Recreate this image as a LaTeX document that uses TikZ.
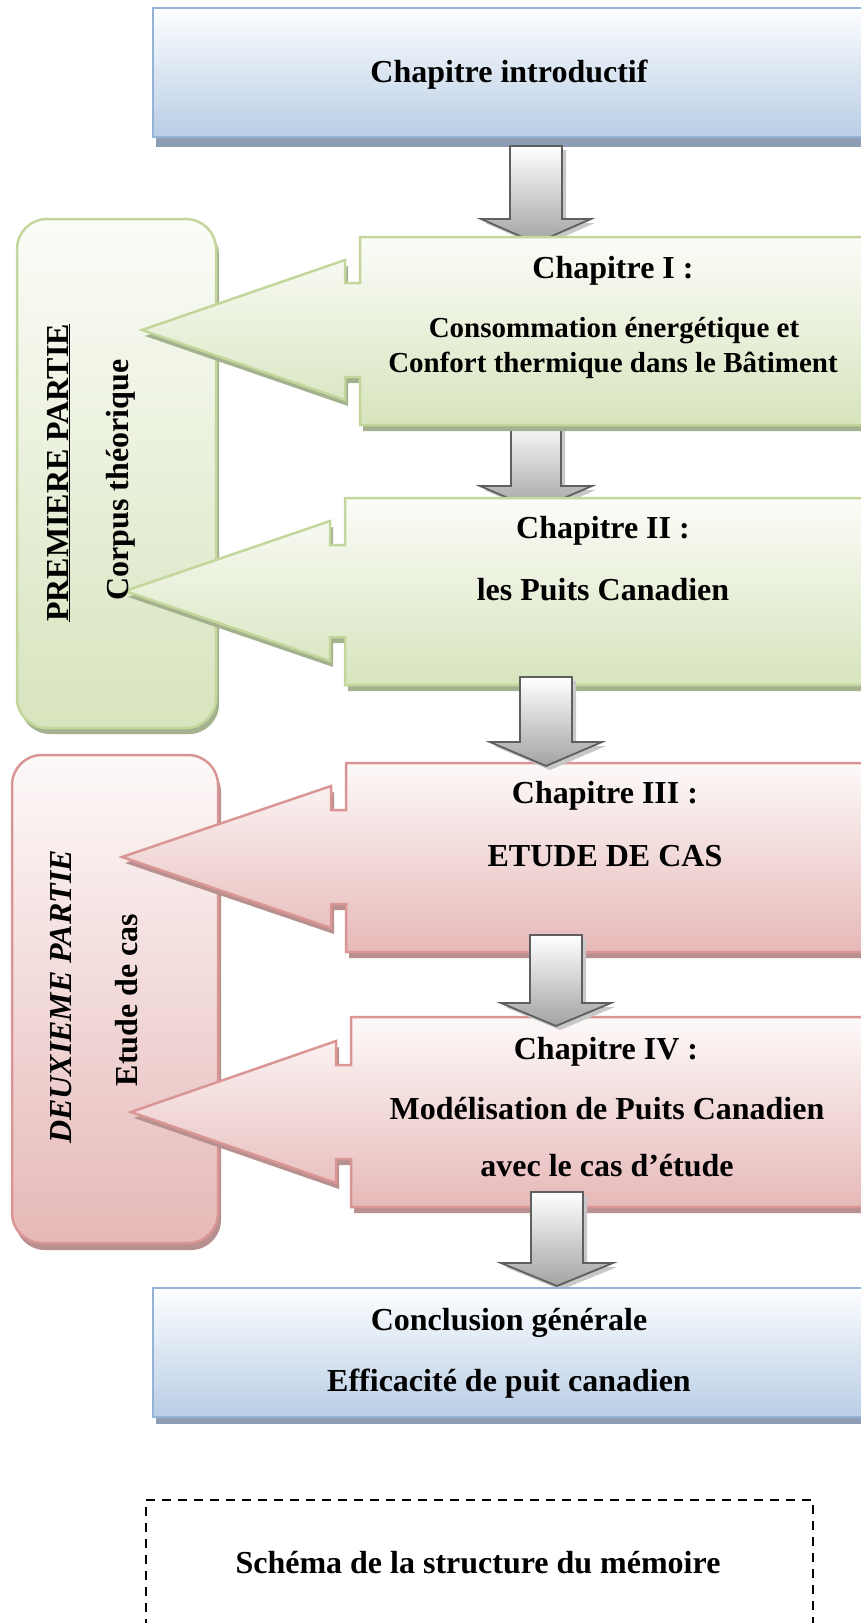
\documentclass[tikz,border=0pt]{standalone}
\usepackage{fontspec}
\setmainfont{Liberation Serif}
\definecolor{bluetop}{HTML}{FDFEFF}
\definecolor{bluebot}{HTML}{B9CDE5}
\definecolor{blueline}{HTML}{95B3D7}
\definecolor{blueshadow}{HTML}{8D9DB3}
\definecolor{greentop}{HTML}{FBFCF8}
\definecolor{greenbot}{HTML}{D7E4BD}
\definecolor{greenline}{HTML}{C3D69B}
\definecolor{greenshadow}{HTML}{A4B18E}
\definecolor{pinktop}{HTML}{FDF9F9}
\definecolor{pinkbot}{HTML}{E6B9B8}
\definecolor{pinkline}{HTML}{D99694}
\definecolor{pinkshadow}{HTML}{B8908F}
\definecolor{arrowbot}{HTML}{A3A3A3}
\definecolor{arrowline}{HTML}{5F5F5F}
\definecolor{arrowshadow}{HTML}{C8C8C8}
% chapter callout: #1 body left, #2 top, #3 bottom, #4 neck x, #5 tip x, #6 tip y, #7 head half, #8 neck half, #9 colour prefix
\newcommand{\chapbox}[9]{%
  \fill[#9shadow, xshift=3pt, yshift=-6pt] (900,#2) -- (#1,#2) -- (#1,{#6-#8}) -- (#4,{#6-#8}) -- (#4,{#6-#7}) -- (#5,#6) -- (#4,{#6+#7}) -- (#4,{#6+#8}) -- (#1,{#6+#8}) -- (#1,#3) -- (900,#3) -- cycle;
  \path[draw=#9line, line width=2.5pt, top color=#9top, bottom color=#9bot] (900,#2) -- (#1,#2) -- (#1,{#6-#8}) -- (#4,{#6-#8}) -- (#4,{#6-#7}) -- (#5,#6) -- (#4,{#6+#7}) -- (#4,{#6+#8}) -- (#1,{#6+#8}) -- (#1,#3) -- (900,#3) -- cycle;
}
% block down arrow: #1 centre x, #2 top, #3 head start, #4 tip, #5 shaft half, #6 head half
\newcommand{\downblk}[6]{%
  \fill[arrowshadow, xshift=4pt, yshift=-4pt] ({#1-#5},#2) -- ({#1+#5},#2) -- ({#1+#5},#3) -- ({#1+#6},#3) -- (#1,#4) -- ({#1-#6},#3) -- ({#1-#5},#3) -- cycle;
  \path[draw=arrowline, line width=1.8pt, top color=white, bottom color=arrowbot] ({#1-#5},#2) -- ({#1+#5},#2) -- ({#1+#5},#3) -- ({#1+#6},#3) -- (#1,#4) -- ({#1-#6},#3) -- ({#1-#5},#3) -- cycle;
}
\begin{document}
\begin{tikzpicture}[x=1pt,y=-1pt,
  txt/.style={font=\fontsize{32}{38}\selectfont\bfseries, anchor=base, inner sep=0pt},
  txts/.style={font=\fontsize{29}{35}\selectfont\bfseries, anchor=base, inner sep=0pt},
  side/.style={font=\fontsize{32}{38}\selectfont\bfseries, anchor=base, inner sep=0pt, rotate=90}]
\useasboundingbox (0,0) rectangle (861,1623);
\clip (0,0) rectangle (861,1623);
% top box
\fill[blueshadow, xshift=3pt, yshift=-10pt] (153,8) rectangle (900,137);
\path[draw=blueline, line width=2.5pt, top color=bluetop, bottom color=bluebot] (153,8) rectangle (900,137);
% side boxes
\fill[greenshadow, xshift=3pt, yshift=-6pt, rounded corners=30pt] (17,219) rectangle (216,728);
\path[draw=greenline, line width=2.5pt, top color=greentop, bottom color=greenbot, rounded corners=30pt] (17,219) rectangle (216,728);
\fill[pinkshadow, xshift=3pt, yshift=-7pt, rounded corners=30pt] (12,755) rectangle (218,1243);
\path[draw=pinkline, line width=2.5pt, top color=pinktop, bottom color=pinkbot, rounded corners=30pt] (12,755) rectangle (218,1243);
% arrows behind chapter boxes
\downblk{536}{146}{219}{243}{26}{55}
\downblk{536}{420}{486}{510}{25}{56}
% chapter callouts
\chapbox{360}{237}{425}{345}{142}{330}{70}{47}{green}
\chapbox{345}{498}{685}{330}{125}{591}{70}{46}{green}
\chapbox{346}{763}{952}{331}{122}{857}{71}{47}{pink}
\chapbox{351}{1017}{1207}{336}{131}{1112}{71}{47}{pink}
% arrows on top
\downblk{546}{677}{742}{766}{26}{56}
\downblk{556}{935}{1003}{1026}{26}{55}
\downblk{557}{1192}{1263}{1286}{26}{56}
% conclusion box
\fill[blueshadow, xshift=3pt, yshift=-7pt] (153,1288) rectangle (900,1417);
\path[draw=blueline, line width=2.5pt, top color=bluetop, bottom color=bluebot] (153,1288) rectangle (900,1417);
% dashed caption box
\draw[line width=2pt, dash pattern=on 9pt off 7pt] (146,1660) -- (146,1500) -- (813,1500) -- (813,1660);
% texts
\node[txt] (intro) at (509,82) {Chapitre introductif};
\node[txt] (c1a) at (613,278) {Chapitre I :};
\node[txts] (c1b) at (614,337) {Consommation énergétique et};
\node[txts] (c1c) at (613,372) {Confort thermique dans le Bâtiment};
\node[txt] (c2a) at (603,538) {Chapitre II :};
\node[txt] (c2b) at (603,600) {les Puits Canadien};
\node[txt] (c3a) at (605,803) {Chapitre III :};
\node[txt] (c3b) at (605,866) {ETUDE DE CAS};
\node[txt] (c4a) at (606,1059) {Chapitre IV :};
\node[txt] (c4b) at (607,1119) {Modélisation de Puits Canadien};
\node[txt] (c4c) at (607,1176) {avec le cas d’étude};
\node[txt] (cc1) at (509,1330) {Conclusion générale};
\node[txt] (cc2) at (509,1391) {Efficacité de puit canadien};
\node[txt] (cap) at (478,1573) {Schéma de la structure du mémoire};
\node[side] (p1) at (68,473) {\underline{PREMIERE PARTIE}};
\node[side] (p1b) at (128,480) {Corpus théorique};
\node[side] (p2) at (71,997) {\itshape DEUXIEME PARTIE};
\node[side] (p2b) at (137,1000) {Etude de cas};
\end{tikzpicture}
\end{document}
